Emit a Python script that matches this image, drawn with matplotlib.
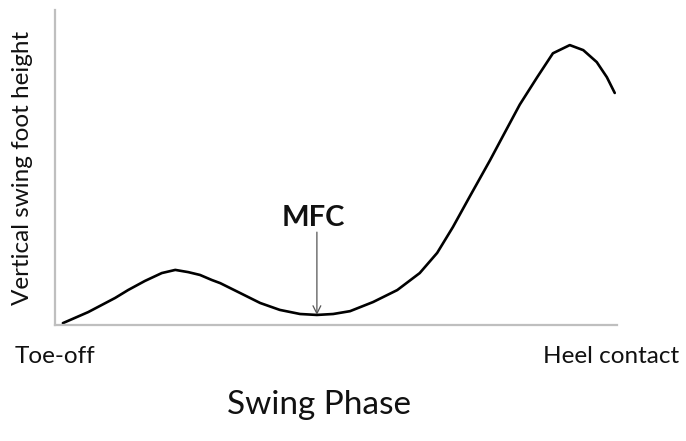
import matplotlib
matplotlib.use("Agg")
import matplotlib.pyplot as plt

# swing phase (% of swing) vs vertical foot height (arbitrary units)
phase = [1.4, 5.9, 10.7, 13.0, 16.0, 19.0, 21.4, 23.7, 25.8, 27.9, 29.4,
         32.9, 36.5, 40.0, 43.6, 46.6, 49.5, 52.5, 56.6, 60.9, 64.9, 68.0,
         70.8, 73.8, 77.4, 79.7, 82.7, 85.8, 88.6, 91.6, 94.0, 96.4, 98.2,
         99.6]
height = [0.6, 4.1, 8.6, 11.1, 14.0, 16.5, 17.5, 16.8, 15.9, 14.3, 13.3,
          10.2, 7.0, 4.8, 3.5, 3.2, 3.5, 4.4, 7.3, 11.1, 16.5, 22.9,
          31.1, 40.8, 52.3, 60.0, 70.0, 78.7, 86.3, 88.9, 87.3, 83.5, 78.7,
          73.7]
tick_pos = [0, 99]
tick_labels = ["Toe-off", "Heel contact"]
mfc_phase = 46.6
mfc_height = 3.2

plt.rcParams["font.family"] = ["Lato", "DejaVu Sans"]

fig = plt.figure(figsize=(6.86, 4.41), dpi=100)
ax = fig.add_axes([0.0802, 0.263, 0.8192, 0.714])

ax.plot(phase, height, color="black", lw=1.9, solid_capstyle="round",
        solid_joinstyle="round")

# MFC marker
ax.annotate("", xy=(mfc_phase, mfc_height), xytext=(mfc_phase, 29.5),
            arrowprops=dict(arrowstyle="->", color="#555555", lw=0.9,
                            mutation_scale=14, shrinkA=0, shrinkB=0))
ax.text(45.9, 34.0, "MFC", fontsize=21, fontweight="bold",
        ha="center", va="center", color="#111111")

ax.set_xlim(0, 100)
ax.set_ylim(0, 100)
ax.set_yticks([])
ax.set_xticks(tick_pos)
ax.set_xticklabels(tick_labels, fontsize=17.5, color="#111111")
ax.tick_params(axis="x", length=0, pad=15)

for side in ("top", "right"):
    ax.spines[side].set_visible(False)
for side in ("left", "bottom"):
    ax.spines[side].set_color("#bfbfbf")
    ax.spines[side].set_linewidth(1.6)

ax.set_xlabel("Swing Phase", fontsize=24, color="#111111", va="center")
ax.xaxis.set_label_coords(0.47, -0.254)
ax.set_ylabel("Vertical swing foot height", fontsize=17.5, color="#111111",
              va="center")
ax.yaxis.set_label_coords(-0.0587, 0.50)

fig.savefig("out.png", dpi=100)
